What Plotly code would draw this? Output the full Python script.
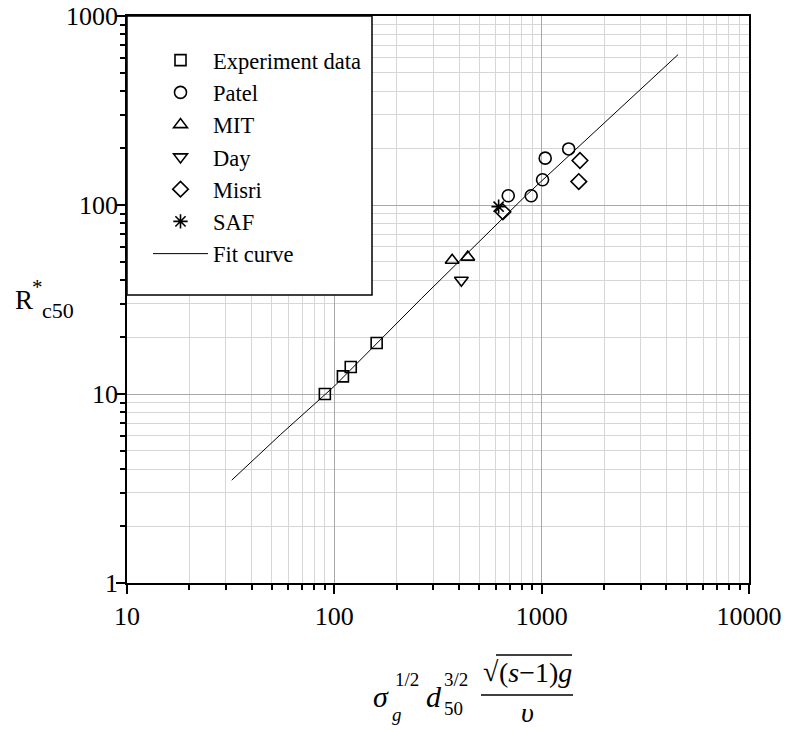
import plotly.graph_objects as go

# ---- data ----
exp_x = [90, 110, 120, 160]
exp_y = [10.0, 12.4, 13.9, 18.6]

patel_x = [690, 890, 1010, 1040, 1350]
patel_y = [112, 112, 136, 177, 198]

mit_x = [370, 440]
mit_y = [51, 53]

day_x = [410]
day_y = [40]

misri_x = [650, 1510, 1530]
misri_y = [92, 133, 172]

saf_x = [620]
saf_y = [98]

fit_x = [32, 55, 100, 160, 263, 845, 2970, 4550]
fit_y = [3.5, 6.1, 11.0, 18.5, 32, 113, 404, 625]

x_ticks = [10, 100, 1000, 10000]
x_tick_text = ["10", "100", "1000", "10000"]
y_ticks = [1, 10, 100, 1000]
y_tick_text = ["1", "10", "100", "1000"]

# ---- geometry (page coords; body margin removed by post_script) ----
W, H = 797, 731
L, R, T, B = 127, 749, 16, 583
pw, ph = R - L, B - T

def px(x):  # page x -> paper
    return (x - L) / pw

def py(y):  # page y -> paper
    return (B - y) / ph

FONT = "Liberation Serif, Times New Roman, serif"
mk_line = dict(color="black", width=1.6)

fig = go.Figure()
series = [
    ("Experiment data", exp_x, exp_y, "square-open", 11),
    ("Patel", patel_x, patel_y, "circle-open", 12),
    ("MIT", mit_x, mit_y, "triangle-up-open", 12),
    ("Day", day_x, day_y, "triangle-down-open", 12),
    ("Misri", misri_x, misri_y, "diamond-open", 12),
    ("SAF", saf_x, saf_y, "asterisk-open", 12),
]
for name, xs, ys, sym, sz in series:
    fig.add_trace(go.Scatter(
        x=xs, y=ys, mode="markers", name=name,
        marker=dict(symbol=sym, size=sz, color="black", line=mk_line),
    ))
fig.add_trace(go.Scatter(
    x=fit_x, y=fit_y, mode="lines", name="Fit curve",
    line=dict(color="black", width=1),
))

axis_common = dict(
    type="log", automargin=False,
    showline=True, linecolor="black", linewidth=1.5, mirror=True,
    ticks="outside", ticklen=9, tickwidth=1.5, tickcolor="black",
    showgrid=True, gridcolor="#a8a8a8", gridwidth=1.2,
    zeroline=False, ticklabeloverflow="allow",
    tickfont=dict(family=FONT, size=26, color="black"),
    minor=dict(dtick="D1", ticks="outside", ticklen=5, tickwidth=1.5,
               tickcolor="black", showgrid=True, gridcolor="#d6d6d6",
               gridwidth=1.2),
)

fig.update_xaxes(range=[1, 4], tickmode="array", tickvals=x_ticks,
                 ticktext=x_tick_text, **axis_common)
fig.update_yaxes(range=[0, 3], tickmode="array", tickvals=y_ticks,
                 ticktext=y_tick_text, ticklabelstandoff=-7, **axis_common)

shapes = [
    # legend box
    dict(type="rect", xref="paper", yref="paper",
         x0=0, x1=px(372), y0=py(295), y1=1,
         fillcolor="white", line=dict(color="black", width=1.5),
         layer="above"),
]

annotations = []

def ann(text, x, y, size, xanchor="left", italic=False):
    if italic:
        text = "<i>" + text + "</i>"
    annotations.append(dict(
        text=text, x=px(x), y=py(y), xref="paper", yref="paper",
        xanchor=xanchor, yanchor="middle", showarrow=False,
        font=dict(family=FONT, size=size, color="black"),
    ))

# y-axis title  R*_c50
ann("R", 13, 300, 27)
ann("*", 30, 287, 21)
ann("c50", 40, 310, 22)

# x-axis title (formula)
ann("σ", 371, 697, 30, italic=True)
ann("g", 390, 714, 19, italic=True)
ann("1/2", 393, 679, 19)
ann("d", 424, 697, 30, italic=True)
ann("50", 442, 708, 19)
ann("3/2", 442, 679, 19)
ann("√", 481, 671, 28)
ann("(<i>s</i>−1)<i>g</i>", 497, 672, 28)
ann("υ", 527, 713, 28, xanchor="center", italic=True)
shapes.append(dict(type="line", xref="paper", yref="paper",
                   x0=px(496), x1=px(572), y0=py(655), y1=py(655),
                   line=dict(color="black", width=1.5)))
shapes.append(dict(type="line", xref="paper", yref="paper",
                   x0=px(481), x1=px(573), y0=py(695), y1=py(695),
                   line=dict(color="black", width=1.5)))

fig.update_layout(
    width=W, height=H,
    margin=dict(l=L, r=W - R, t=T, b=H - B, pad=0, autoexpand=False),
    paper_bgcolor="white", plot_bgcolor="white",
    showlegend=True,
    legend=dict(
        x=px(148), y=py(39), xanchor="left", yanchor="top",
        bgcolor="rgba(0,0,0,0)", borderwidth=0,
        font=dict(family=FONT, size=22.5, color="black"),
        itemwidth=55, tracegroupgap=0,
    ),
    shapes=shapes,
    annotations=annotations,
)

fig.write_html(
    "out.html",
    config={"displayModeBar": False},
    post_script="document.body.style.margin='0';document.body.style.overflow='hidden';",
)
